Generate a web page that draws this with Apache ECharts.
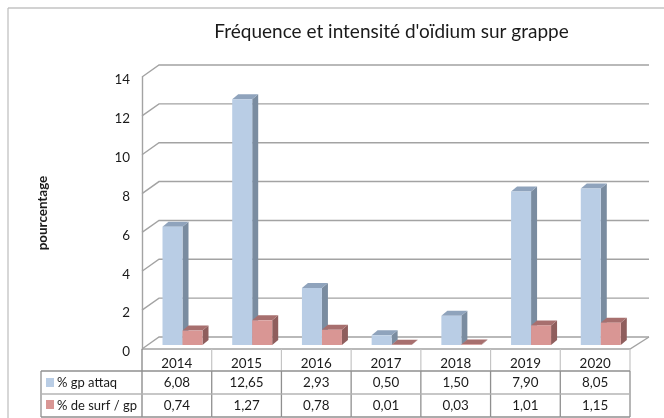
<!DOCTYPE html>
<html><head><meta charset="utf-8">
<style>html,body{margin:0;padding:0;background:#fff}#c{width:664px;height:418px}</style>
<script src="https://cdn.jsdelivr.net/npm/echarts@6/dist/echarts.min.js"></script>
</head><body><div id="c"></div>
<script>
const titleText = "Fréquence et intensité d'oïdium sur grappe";
const yTitle = "pourcentage";
const years = ["2014","2015","2016","2017","2018","2019","2020"];
const gpName = "% gp attaq";
const surfName = "% de surf / gp";
const gpValues = [6.08,12.65,2.93,0.50,1.50,7.90,8.05];
const surfValues = [0.74,1.27,0.78,0.01,0.03,1.01,1.15];
const yTicks = [0,2,4,6,8,10,12,14];

const FONT = 'Lato';
const LINE = '#a3a3a3';
const DX = 17, DY = 12;
const chart = echarts.init(document.getElementById('c'), null, {renderer:'canvas'});

function bar3d(api, offset, face, top, side){
  const i = api.value(0), v = api.value(1);
  const band = api.size([1,0])[0];
  const left = api.coord([i,0])[0] - band/2;
  const w = 20, dx = 6, dy = 5;
  const x0 = left + 20.5 + offset*w, x1 = x0 + w;
  const yb = api.coord([i,0])[1] - 4, yt = api.coord([i,v])[1] - 4;
  return {type:'group',children:[
    {type:'polygon',shape:{points:[[x1,yb],[x1+dx,yb-dy],[x1+dx,yt-dy],[x1,yt]]},style:{fill:side}},
    {type:'polygon',shape:{points:[[x0,yt],[x0+dx,yt-dy],[x1+dx,yt-dy],[x1,yt]]},style:{fill:top}},
    {type:'rect',shape:{x:x0,y:yt,width:w,height:Math.max(yb-yt,0)},style:{fill:face}}
  ]};
}
function barSeries(name, vals, offset, face, top, side){
  return {type:'custom',name,data:vals.map((v,i)=>[i,v]),z:5,silent:true,
    encode:{x:0,y:1},
    renderItem:(p,api)=>bar3d(api,offset,face,top,side)};
}
const gridSeries = {type:'custom',data:yTicks.map(v=>[0,v]),z:2,silent:true,encode:{y:1},
  renderItem:(p,api)=>{
    const band = api.size([1,0])[0];
    const c = api.coord([0,api.value(1)]);
    const l = c[0]-band/2, y = c[1], r = l+band*years.length;
    const children = [{type:'polyline',shape:{points:[[l,y],[l+DX,y-DY],[r+DX+2,y-DY]]},
      style:{stroke:LINE,lineWidth:1.4,fill:null}}];
    if(api.value(1)===0){
      children.push({type:'polyline',shape:{points:[[l,y],[r,y],[r+DX+2,y-DY]]},style:{stroke:LINE,lineWidth:1.4,fill:null}});
    }
    return {type:'group',children};
  }};
const ROW_H = [0,22,45,68];
const tableSeries = {type:'custom',data:years.map((y,i)=>[i,0]),z:3,silent:true,encode:{x:0},
  renderItem:(p,api)=>{
    const i = api.value(0);
    const band = api.size([1,0])[0];
    const c = api.coord([i,0]);
    const l = c[0]-band/2, y0 = c[1], r = l+band;
    const ch = [];
    const ln = (x1,y1,x2,y2,col,w)=>ch.push({type:'line',shape:{x1,y1,x2,y2},style:{stroke:col,lineWidth:w}});
    ln(r,y0,r,y0+ROW_H[1],'#c4c4c4',1.2);
    ln(r,y0+ROW_H[1],r,y0+ROW_H[3],'#8f8f8f',1.3);
    if(i===0){
      ln(l,y0,l,y0+ROW_H[3],'#8f8f8f',1.4);
      const tl = 41;
      ln(tl,y0+ROW_H[1],tl,y0+ROW_H[3],'#8f8f8f',1.3);
      ln(tl,y0+ROW_H[1],l,y0+ROW_H[1],'#8f8f8f',1.3);
      ln(tl,y0+ROW_H[2],l,y0+ROW_H[2],'#b5b5b5',1.3);
      ln(tl,y0+ROW_H[3],l,y0+ROW_H[3],'#8f8f8f',1.3);
      ch.push({type:'rect',shape:{x:46,y:y0+29,width:8,height:9},style:{fill:'#b9cde5'}});
      ch.push({type:'rect',shape:{x:46,y:y0+51,width:8,height:9},style:{fill:'#d99694'}});
      ch.push({type:'text',style:{text:gpName,x:57,y:y0+34,font:'13px '+FONT,fill:'#1a1a1a',textVerticalAlign:'middle'}});
      ch.push({type:'text',style:{text:surfName,x:57,y:y0+56.5,font:'13px '+FONT,fill:'#1a1a1a',textVerticalAlign:'middle'}});
    }
    ln(l,y0+ROW_H[1],r,y0+ROW_H[1],'#8f8f8f',1.3);
    ln(l,y0+ROW_H[2],r,y0+ROW_H[2],'#b5b5b5',1.3);
    ln(l,y0+ROW_H[3],r,y0+ROW_H[3],'#8f8f8f',1.3);
    const fmt = v=>v.toFixed(2).replace('.',',');
    ch.push({type:'text',style:{text:fmt(gpValues[i]),x:c[0],y:y0+34,font:'13.4px '+FONT,fill:'#1a1a1a',textAlign:'center',textVerticalAlign:'middle'}});
    ch.push({type:'text',style:{text:fmt(surfValues[i]),x:c[0],y:y0+56.5,font:'13.4px '+FONT,fill:'#1a1a1a',textAlign:'center',textVerticalAlign:'middle'}});
    return {type:'group',children:ch};
  }};

chart.setOption({
  animation:false,
  backgroundColor:'#fff',
  title:{text:titleText,left:386.5,top:17,textAlign:'center',
    textStyle:{fontFamily:FONT,fontSize:19,fontWeight:'normal',color:'#1a1a1a'}},
  grid:{left:142,top:77,width:488,height:272,containLabel:false},
  xAxis:{type:'category',data:years,axisTick:{show:false},axisLine:{show:false},
    axisLabel:{margin:8,fontFamily:FONT,fontSize:13.4,color:'#1a1a1a'}},
  yAxis:{type:'value',min:0,max:14,interval:2,
    name:yTitle,nameLocation:'middle',nameGap:93,nameRotate:90,
    nameTextStyle:{fontFamily:FONT,fontSize:13.4,fontWeight:'bold',color:'#1a1a1a'},
    axisLine:{show:true,lineStyle:{color:LINE,width:1.4}},axisTick:{show:false},
    splitLine:{show:false},
    axisLabel:{margin:12,formatter:'{v|{value}}',
      rich:{v:{padding:[6,0,0,0],fontFamily:FONT,fontSize:13.4,color:'#1a1a1a'}}}},
  graphic:[
    {type:'line',shape:{x1:8,y1:8,x2:664,y2:8},style:{stroke:'#a6a6a6',lineWidth:1.2},silent:true},
    {type:'line',shape:{x1:8,y1:8,x2:8,y2:418},style:{stroke:'#bdbdbd',lineWidth:1.2},silent:true}
  ],
  series:[
    gridSeries,
    tableSeries,
    barSeries(gpName,gpValues,0,'#b9cde5','#8fa3bc','#7a8ca0'),
    barSeries(surfName,surfValues,1,'#d99694','#a76f6e','#8f5e5d')
  ]
});
</script></body></html>
